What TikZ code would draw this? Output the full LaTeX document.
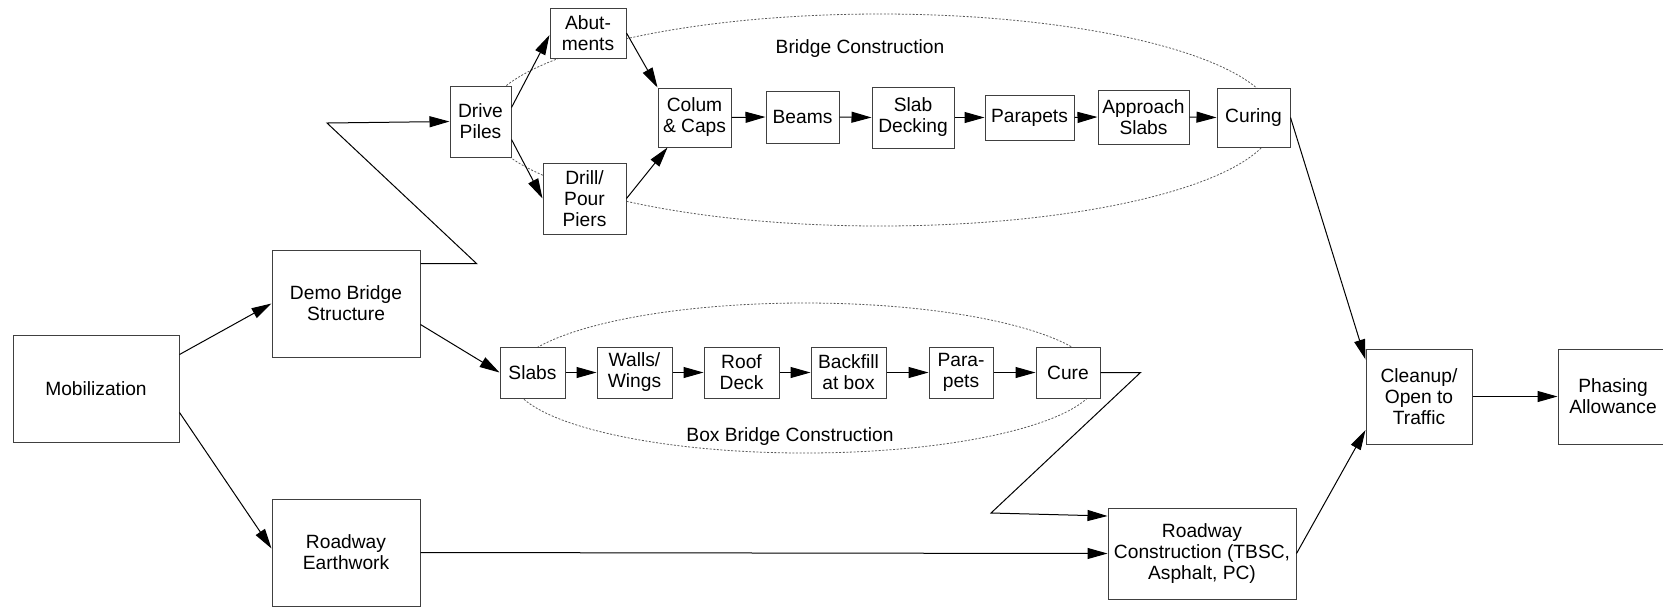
\documentclass[tikz,border=0pt]{standalone}
\usepackage{fontspec}
\setmainfont{Liberation Sans}
\usetikzlibrary{arrows.meta}
\tikzset{
  task/.style={draw=black!75, fill=white, line width=0.5pt, align=center, inner sep=1pt},
  grp/.style={draw=black!65, line width=0.4pt, dash pattern=on 1pt off 0.8pt},
}
\begin{document}
\begin{tikzpicture}[>={Triangle[length=10pt,width=5.5pt]}, x=0.5pt, y=-0.5pt, line width=0.5pt, font=\fontsize{9.6}{10.5}\selectfont]
	\useasboundingbox (0,0) rectangle (1663,607);
	
	% dotted groups
	\draw[grp] (880,120) ellipse [x radius=197.5pt, y radius=53pt];
	\draw[grp] (805,378) ellipse [x radius=146.5pt, y radius=37.5pt];
	\node (lbridge) at (860,49) {Bridge Construction};
	\node (lbox) at (790,437) {Box Bridge Construction};
	
	\node[task, minimum width=83pt, minimum height=53.5pt] (mob) at (96,388.5) {Mobilization};
	\node[task, minimum width=74pt, minimum height=53.5pt] (demo) at (346,303.5) {Demo Bridge\\Structure};
	\node[task, minimum width=74pt, minimum height=53.5pt] (earth) at (346,552.5) {Roadway\\Earthwork};
	
	\node[task, minimum width=30.5pt, minimum height=35.5pt] (drive) at (480.5,121.5) {Drive\\Piles};
	\node[task, minimum width=38pt, minimum height=25pt] (abut) at (588,33) {Abut-\\ments};
	\node[task, minimum width=41.5pt, minimum height=35.5pt] (drill) at (584.5,198.5) {Drill/\\Pour\\Piers};
	\node[task, minimum width=36.5pt, minimum height=29.5pt] (colum) at (694.5,117.5) {Colum\\\& Caps};
	\node[task, minimum width=36.5pt, minimum height=26pt] (beams) at (802.5,117) {Beams};
	\node[task, minimum width=41pt, minimum height=30.5pt] (deck) at (913,117.5) {Slab\\Decking};
	\node[task, minimum width=44.5pt, minimum height=22.5pt] (parap) at (1029.5,117.5) {Parapets};
	\node[task, minimum width=45.5pt, minimum height=27pt] (appr) at (1143.5,117) {Approach\\Slabs};
	\node[task, minimum width=36.5pt, minimum height=29.5pt] (curing) at (1253.5,117.5) {Curing};
	
	\node[task, minimum width=32.5pt, minimum height=25.5pt] (slabs) at (532.5,372.5) {Slabs};
	\node[task, minimum width=37.5pt, minimum height=25.5pt] (walls) at (634.5,372.5) {Walls/\\Wings};
	\node[task, minimum width=37.5pt, minimum height=25.5pt] (roof) at (741.5,372.5) {Roof\\Deck};
	\node[task, minimum width=37.5pt, minimum height=25.5pt] (backf) at (848.5,372.5) {Backfill\\at box};
	\node[task, minimum width=32pt, minimum height=25.5pt] (parab) at (961,372.5) {Para-\\pets};
	\node[task, minimum width=32pt, minimum height=25.5pt] (cure) at (1068,372.5) {Cure};
	
	\node[task, minimum width=94pt, minimum height=45.5pt] (rconst) at (1202,553.5) {Roadway\\Construction (TBSC,\\Asphalt, PC)};
	\node[task, minimum width=53pt, minimum height=47.5pt] (clean) at (1419,396.5) {Cleanup/\\Open to\\Traffic};
	\node[task, minimum width=55pt, minimum height=47.5pt] (phase) at (1613,396.5) {Phasing\\Allowance};
	
	\draw[->] ([yshift=17pt]mob.east) -- (demo.west);
	\draw[->] ([yshift=-12pt]mob.east) -- ([yshift=2pt]earth.west);
	\draw[->] ([yshift=-10.5pt]demo.east) -- (slabs.west);
	\draw[->] ([yshift=20pt]demo.east) -- ++(56,0) -- (327,123) -- (drive.west);
	\draw[->] ([yshift=7pt]drive.east) -- ([yshift=-1pt]abut.west);
	\draw[->] ([yshift=-9pt]drive.east) -- (drill.west);
	\draw[->] (abut.east) -- (colum.north west);
	\draw[->] (drill.east) -- ([xshift=5pt]colum.south west);
	\foreach \a/\b in {colum/beams, beams/deck, deck/parap, parap/appr, appr/curing, slabs/walls, walls/roof, roof/backf, backf/parab, parab/cure, clean/phase}
		\draw[->] (\a.east) -- (\b.west);
	\draw[->] (curing.east) -- ([yshift=-5.5pt]clean.north west);
	\draw[->] (cure.east) -- ++(40,0) -- (991,513) -- ([yshift=18.75pt]rconst.west);
	\draw[->] (earth.east) -- (rconst.west);
	\draw[->] (rconst.east) -- ([yshift=-16.75pt]clean.west);
\end{tikzpicture}
\end{document}
